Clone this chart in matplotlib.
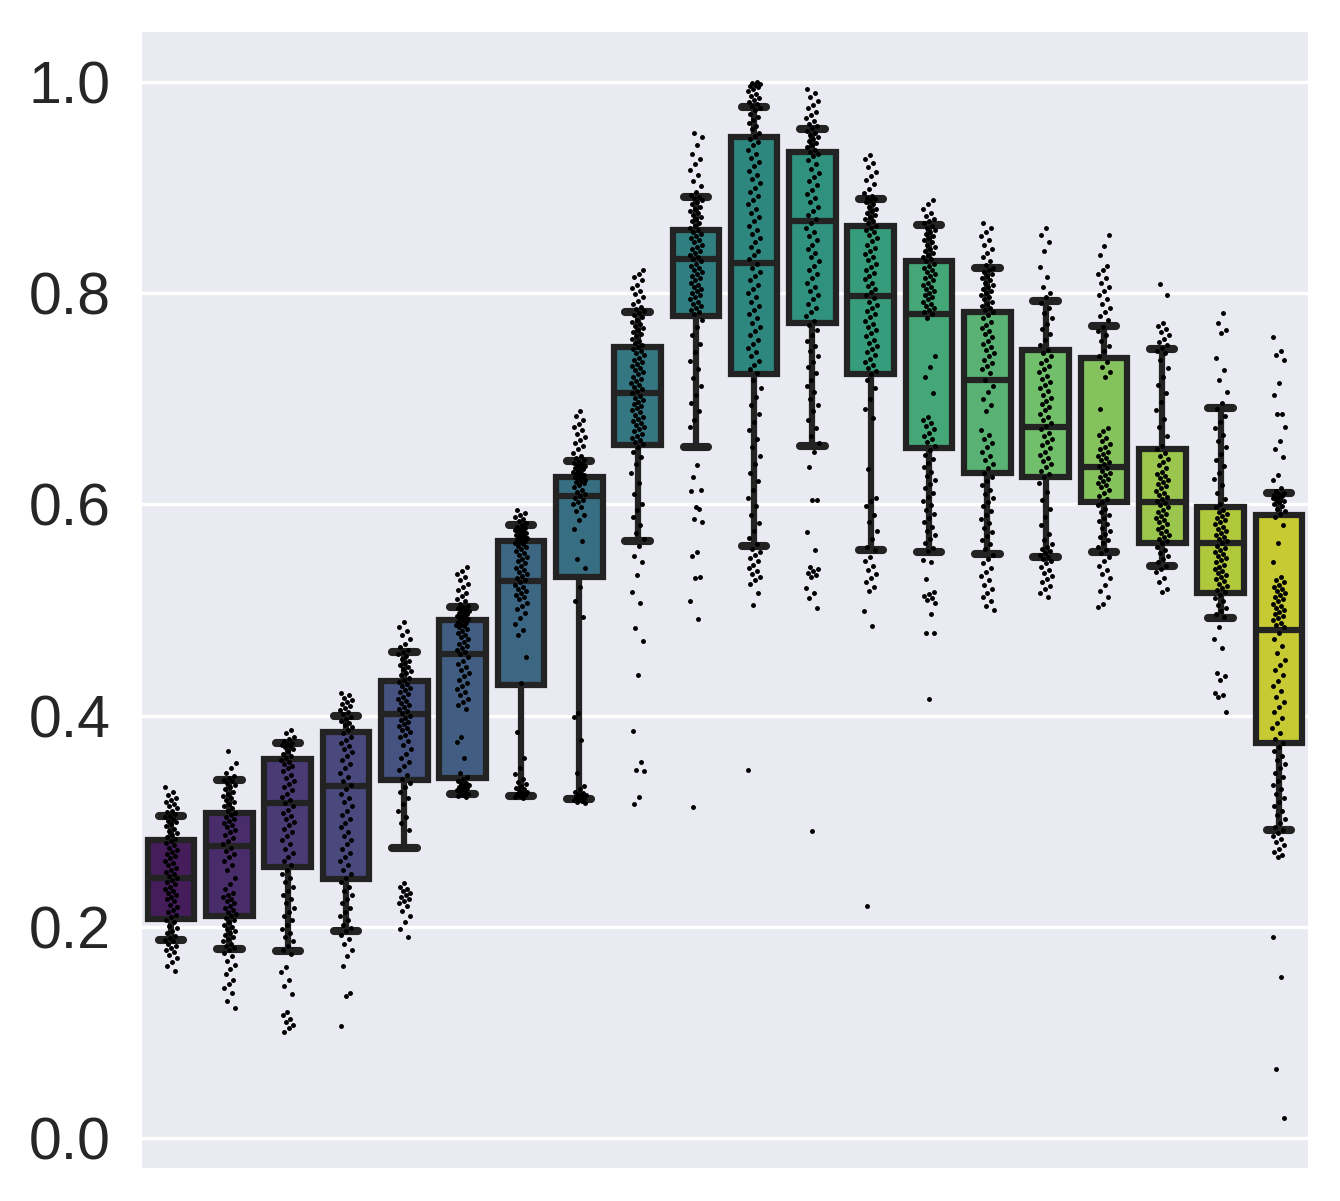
import numpy as np
import matplotlib
matplotlib.use("Agg")
import matplotlib.pyplot as plt
import colorsys

# ---------------- data ----------------
yticks = [0.0, 0.2, 0.4, 0.6, 0.8, 1.0]
ytick_labels = ["0.0", "0.2", "0.4", "0.6", "0.8", "1.0"]

# box statistics
q1 = [0.207, 0.210, 0.257, 0.245, 0.339, 0.341, 0.429, 0.531, 0.656, 0.778,
      0.723, 0.772, 0.723, 0.653, 0.630, 0.626, 0.602, 0.563, 0.516, 0.374]
med = [0.246, 0.276, 0.317, 0.333, 0.401, 0.458, 0.527, 0.608, 0.705, 0.832,
       0.829, 0.868, 0.797, 0.780, 0.718, 0.673, 0.635, 0.602, 0.563, 0.481]
q3 = [0.282, 0.308, 0.359, 0.384, 0.433, 0.490, 0.565, 0.626, 0.749, 0.860,
      0.948, 0.934, 0.864, 0.830, 0.782, 0.746, 0.739, 0.652, 0.597, 0.590]
whislo = [0.187, 0.179, 0.177, 0.196, 0.275, 0.326, 0.324, 0.321, 0.565, 0.654,
          0.561, 0.655, 0.557, 0.555, 0.553, 0.550, 0.555, 0.542, 0.492, 0.292]
whishi = [0.305, 0.339, 0.374, 0.400, 0.460, 0.503, 0.580, 0.641, 0.782, 0.891,
          0.976, 0.955, 0.889, 0.865, 0.824, 0.793, 0.769, 0.747, 0.691, 0.611]

# individual observations (thousandths), one list per box
pts0 = [332,328,325,322,320,318,316,314,312,310,309,307,305,304,302,300,299,297,295,293,291,289,287,285,283,281,279,277,275,273,271,269,267,265,262,260,258,256,254,252,250,248,246,244,242,240,238,236,234,232,230,228,226,224,221,219,216,214,211,209,206,204,201,199,196,194,191,189,187,186,184,182,180,178,176,173,170,167,163,158]
pts1 = [366,355,350,346,343,341,339,338,336,334,332,330,328,326,324,322,320,318,316,314,312,310,308,306,304,302,300,298,296,294,292,290,287,284,281,278,275,272,269,266,262,258,254,246,240,236,232,230,228,226,224,222,220,218,216,214,212,210,208,206,204,202,200,198,196,194,192,190,188,186,184,182,180,178,175,172,168,164,160,155,150,146,142,137,130,123]
pts2 = [386,383,380,378,376,374,373,372,371,370,368,366,364,362,360,358,356,354,352,350,347,344,341,338,335,332,329,326,323,320,317,314,311,308,305,302,299,296,293,290,286,282,278,274,270,266,262,258,254,250,246,242,238,234,230,226,222,218,214,210,206,202,198,194,190,186,182,178,174,162,157,150,144,136,119,116,113,110,107,104,100]
pts3 = [421,419,417,415,413,411,409,407,405,403,401,399,397,395,393,391,389,386,383,380,377,374,371,368,365,362,358,354,350,346,342,338,334,330,326,322,318,314,310,306,302,298,294,290,286,282,278,274,270,266,262,258,254,250,246,242,238,234,230,226,222,218,214,210,206,202,199,196,192,188,184,178,172,163,137,134,106]
pts4 = [489,484,480,476,472,468,465,462,460,458,456,454,452,450,448,446,444,442,440,438,436,434,432,430,428,426,424,422,420,418,416,414,412,410,408,406,404,402,400,398,396,394,392,390,388,386,384,382,380,376,372,368,364,360,356,352,348,344,340,336,332,328,322,316,310,304,298,292,241,238,236,234,232,230,228,226,224,222,220,215,210,204,198,190]
pts5 = [541,537,534,531,528,525,522,519,516,513,510,508,506,504,503,502,501,500,499,498,497,496,495,494,493,492,491,490,489,488,487,486,485,484,482,480,478,476,474,472,470,468,466,464,462,460,458,455,452,449,446,443,440,437,434,431,428,425,422,419,416,413,410,406,380,375,360,346,342,340,338,336,335,334,333,332,331,330,329,328,327,326,325,324,323]
pts6 = [595,592,590,588,586,584,582,580,579,578,577,576,575,574,573,572,571,570,569,568,567,566,565,564,563,562,561,560,558,556,554,552,550,548,546,544,542,540,538,536,534,532,530,528,526,524,522,520,518,516,514,512,510,507,504,501,497,492,487,481,476,455,431,384,360,350,345,340,337,335,333,331,330,329,328,327,326,325,324,323,322]
pts7 = [688,684,680,676,673,670,667,664,661,658,655,652,649,646,644,642,640,639,638,637,636,635,634,633,632,631,630,629,628,627,626,625,624,623,622,621,620,618,616,614,612,610,608,606,604,602,600,597,594,590,585,577,565,548,540,522,508,493,402,399,377,346,333,330,328,327,326,325,324,323,322,321,320,319,318,317]
pts8 = [822,818,815,812,808,805,802,799,796,793,790,787,785,783,781,779,777,775,773,771,769,767,765,763,761,759,757,755,753,751,749,747,745,743,741,739,737,735,733,731,729,727,725,723,721,719,717,715,713,711,709,707,705,703,701,699,697,695,693,691,689,687,685,683,681,679,677,675,673,671,669,667,665,663,661,659,657,654,650,645,638,630,620,610,600,595,588,580,573,567,561,551,545,533,517,507,483,471,438,385,356,348,347,323,316]
pts9 = [952,948,940,932,927,922,917,912,906,901,896,893,891,890,888,886,884,882,880,878,876,874,872,870,868,866,864,862,860,858,856,854,852,850,848,846,844,842,840,838,836,834,832,830,828,826,824,822,820,818,816,814,812,810,808,806,804,802,800,798,796,794,792,790,788,786,784,782,780,775,768,760,752,744,736,728,720,712,704,696,688,680,673,637,626,614,597,613,596,586,583,555,551,531,530,508,491,313]
pts10 = [1000,999,998,997,996,995,993,991,989,987,985,983,981,979,977,975,973,970,967,964,961,958,955,952,949,946,943,940,936,932,928,924,920,916,912,908,904,900,896,892,888,884,880,876,872,868,864,860,856,852,848,844,840,836,832,828,824,820,816,812,808,804,800,796,792,788,784,780,776,772,768,764,760,756,752,748,744,740,736,732,728,724,718,710,702,694,686,678,670,662,654,646,638,630,622,614,606,598,590,582,575,568,562,558,555,552,549,546,543,540,537,534,531,528,525,516,505,348]
pts11 = [993,990,986,982,978,975,972,969,966,963,960,958,956,954,952,950,948,946,944,942,940,938,936,934,932,930,926,922,918,914,910,906,902,898,894,890,886,882,878,874,870,866,862,858,854,850,846,842,838,834,830,826,822,818,814,810,806,802,798,794,790,786,782,778,774,770,765,760,755,750,745,740,735,730,724,718,712,706,700,694,688,680,672,665,658,650,635,604,604,574,557,541,539,537,535,533,531,521,516,511,502,291]
pts12 = [931,927,923,919,915,911,907,903,899,895,892,890,889,888,886,884,882,880,878,876,874,872,870,868,866,864,862,860,858,855,852,849,846,843,840,837,834,831,828,825,822,819,816,813,810,807,804,801,798,795,792,789,786,783,780,777,774,771,768,765,762,759,756,753,750,747,744,741,738,735,732,729,726,723,718,710,700,690,682,633,606,603,598,590,583,575,567,560,557,550,546,542,538,534,530,526,522,518,499,485,220]
pts13 = [888,884,880,876,873,870,868,866,864,862,860,858,856,854,852,850,848,846,844,842,840,838,836,834,832,830,828,826,824,822,820,818,816,814,812,810,808,806,804,802,800,798,796,794,792,790,788,786,784,782,780,776,740,730,721,705,683,680,677,674,671,668,665,662,659,655,651,647,643,639,635,631,627,623,619,615,611,607,603,599,595,591,587,583,579,575,571,567,563,559,556,547,545,529,517,515,513,511,509,507,496,478,478,416]
pts14 = [866,862,858,854,850,846,842,838,834,830,827,824,822,820,818,816,814,812,810,808,806,804,802,800,798,796,794,792,790,788,786,784,782,779,776,773,770,767,764,761,758,755,752,749,746,743,740,737,734,731,728,724,718,712,706,700,694,688,670,666,662,658,654,650,646,642,638,634,630,626,622,618,614,610,606,602,598,594,590,586,582,578,574,570,566,562,558,552,548,544,540,536,532,528,524,520,516,512,508,504,500]
pts15 = [862,855,848,840,825,815,806,800,796,791,786,781,776,771,766,761,756,751,746,743,740,737,734,731,728,725,722,719,716,713,710,707,704,701,698,695,692,689,686,683,680,677,674,671,668,665,662,659,656,653,650,647,644,641,638,635,632,629,626,620,612,604,596,588,580,572,566,562,560,558,556,554,552,550,548,546,544,541,538,535,532,529,526,523,520,516,512]
pts16 = [855,845,836,826,822,818,814,810,806,802,798,794,790,786,782,778,775,768,764,760,755,750,745,740,735,730,725,721,690,672,669,666,663,660,657,654,652,650,648,646,644,642,640,638,636,634,632,630,628,626,624,622,620,618,616,614,611,608,605,602,599,596,593,590,587,584,581,578,575,572,569,566,563,560,557,554,550,546,542,538,534,530,524,518,512,506,503]
pts17 = [809,798,772,769,766,763,760,757,754,751,748,745,743,737,729,721,713,705,697,689,681,673,665,655,652,649,646,643,640,637,634,631,629,627,625,623,621,619,617,615,613,611,609,607,605,603,601,599,597,595,593,591,589,587,585,583,581,579,577,575,573,571,569,567,565,563,560,557,554,551,548,545,542,539,536,530,526,520,517]
pts18 = [781,772,765,762,739,727,718,706,696,690,684,678,672,666,660,654,648,642,636,630,624,618,611,605,600,597,595,593,591,589,587,585,583,581,579,577,575,573,571,569,567,565,563,561,559,557,555,553,551,549,547,545,543,541,539,537,535,533,531,529,527,525,523,521,519,517,514,511,508,505,502,499,496,493,484,472,464,440,437,434,421,419,418,403]
pts19 = [758,745,741,737,715,704,686,686,673,660,652,645,628,623,615,613,611,610,609,608,607,606,605,604,603,602,600,598,596,594,591,588,580,563,545,531,528,526,524,522,520,518,516,514,512,510,508,506,504,502,500,498,496,494,492,490,488,486,484,478,472,466,459,453,448,443,438,433,428,423,418,413,408,403,398,393,388,383,378,374,370,366,362,358,354,350,346,342,338,334,330,326,322,318,314,310,306,302,298,294,292,289,286,283,280,277,274,271,268,266,190,152,65,19]

points = [pts0, pts1, pts2, pts3, pts4, pts5, pts6, pts7, pts8, pts9,
          pts10, pts11, pts12, pts13, pts14, pts15, pts16, pts17, pts18, pts19]

# ---------------- style ----------------
plt.rcParams['font.family'] = ['Liberation Sans', 'DejaVu Sans']
n = len(med)

def desat(c, prop=0.75):
    h, l, s = colorsys.rgb_to_hls(*c[:3])
    return colorsys.hls_to_rgb(h, l, s * prop)

cmap = matplotlib.colormaps['viridis']
colors = [desat(cmap(v)) for v in np.linspace(0, 1, n + 2)[1:-1]]

fig = plt.figure(figsize=(13.40 / 3, 12.01 / 3), dpi=300)
ax = fig.add_axes([142 / 1340, 1 - 1168 / 1201, (1308 - 142) / 1340, (1168 - 32) / 1201])
ax.set_facecolor('#EAEAF2')
for s in ax.spines.values():
    s.set_visible(False)

edge = '#232323'
lw = 1.5
stats = [dict(med=med[i], q1=q1[i], q3=q3[i], whislo=whislo[i], whishi=whishi[i])
         for i in range(n)]
bp = ax.bxp(stats, positions=np.arange(n), widths=0.8, patch_artist=True,
            showfliers=False, capwidths=0.42,
            boxprops=dict(edgecolor=edge, linewidth=lw),
            whiskerprops=dict(color=edge, linewidth=lw, solid_capstyle='butt'),
            capprops=dict(color=edge, linewidth=lw * 1.3, solid_capstyle='round'),
            medianprops=dict(color=edge, linewidth=lw),
            zorder=2)
for patch, c in zip(bp['boxes'], colors):
    patch.set_facecolor(c)

for i, p in enumerate(points):
    vals = np.array(p) / 1000.0
    k = np.arange(len(vals))
    off = ((k * 0.6180339887 + i * 0.37) % 1.0 - 0.5) * 0.22
    ax.scatter(i + off, vals, s=1.4, color='black', linewidths=0, zorder=3)

ax.set_xlim(-0.5, n - 0.5)
ax.set_ylim(-0.0285, 1.0473)
ax.set_xticks([])
ax.set_yticks(yticks)
ax.set_yticklabels(ytick_labels)
ax.tick_params(axis='y', length=0, pad=7.5, labelsize=14.2, labelcolor='#262626')
ax.grid(axis='y', color='white', linewidth=0.8)
ax.set_axisbelow(True)

fig.savefig('out.png', dpi=300, facecolor='white')
